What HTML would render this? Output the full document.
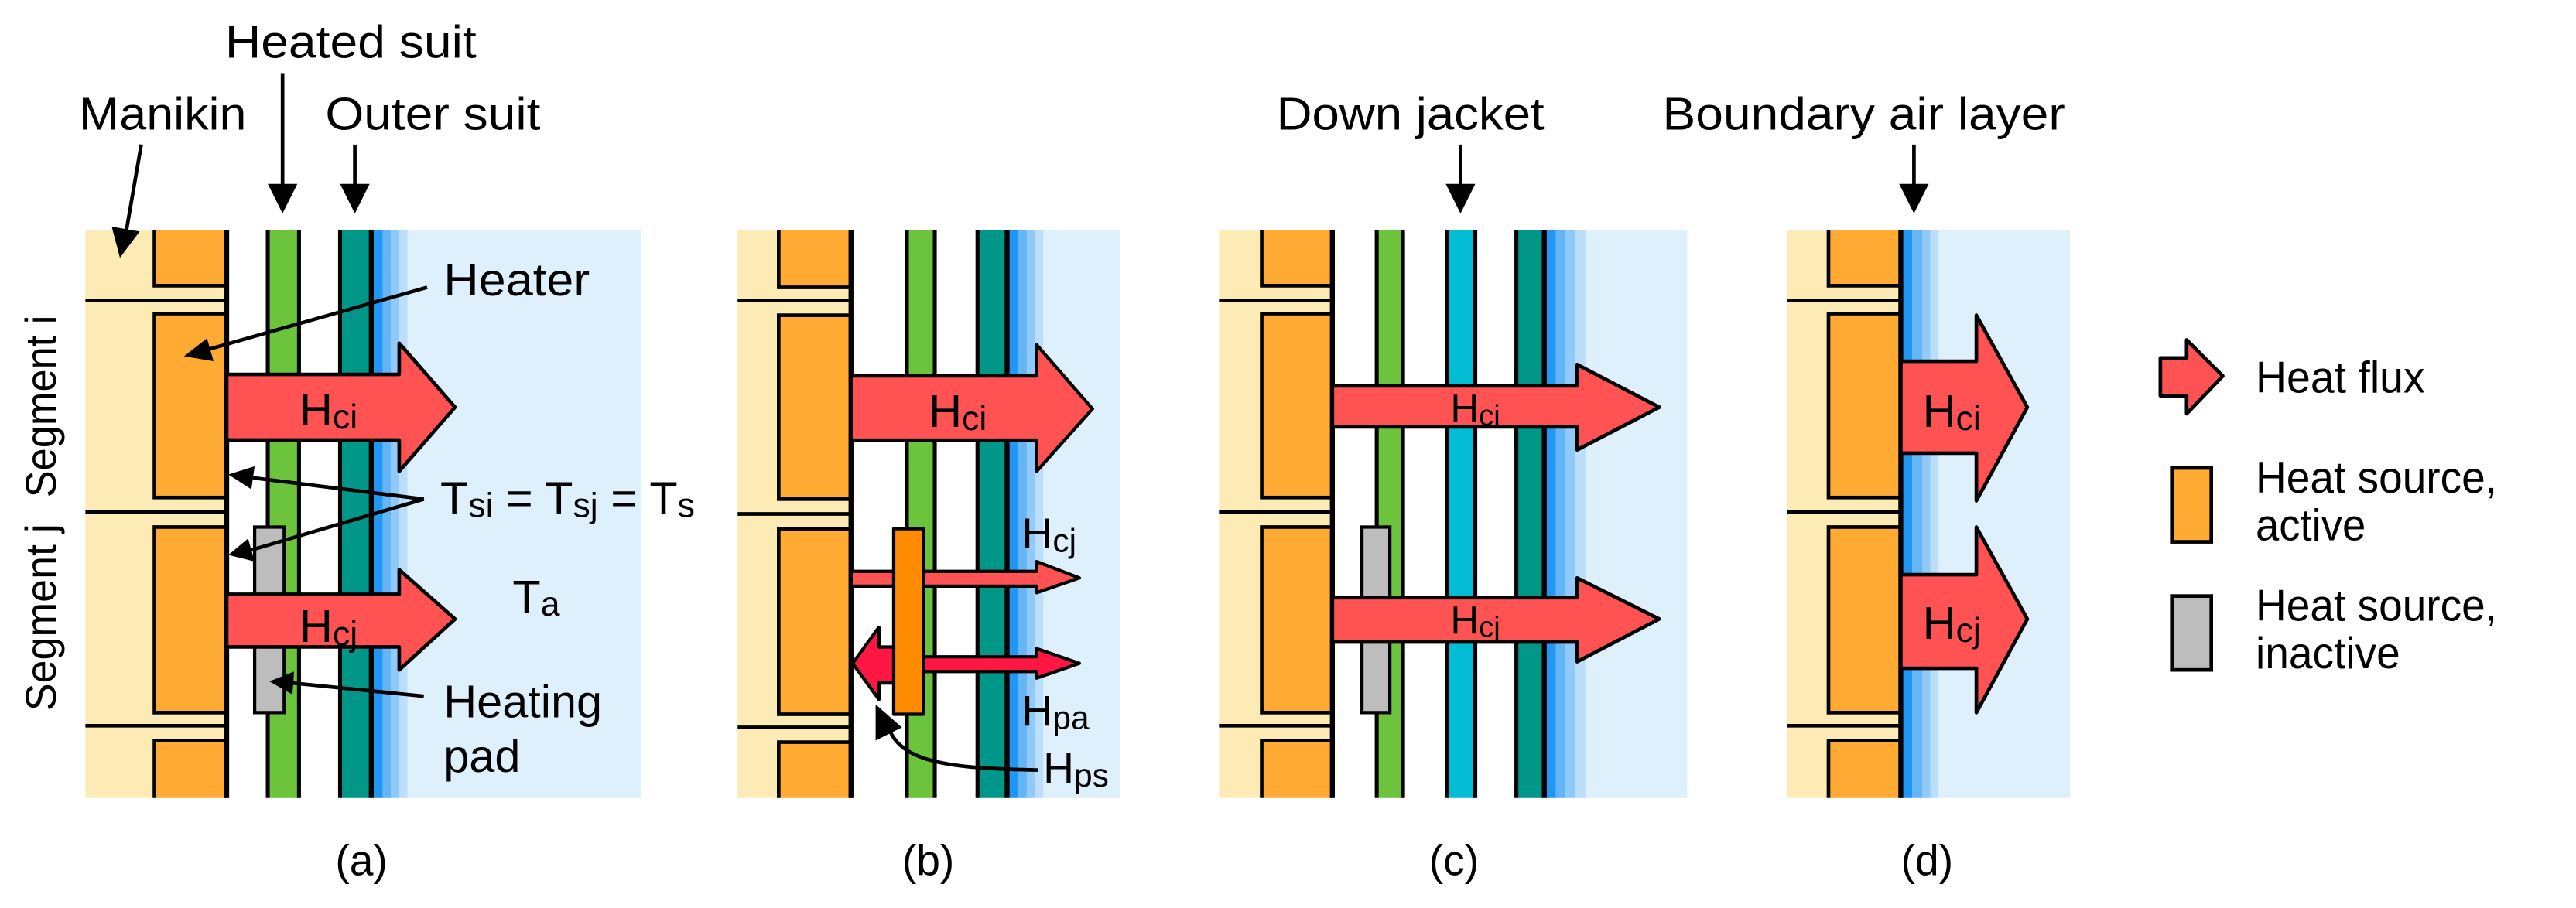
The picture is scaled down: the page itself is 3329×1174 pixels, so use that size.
<!DOCTYPE html>
<html><head><meta charset="utf-8"><style>html,body{margin:0;padding:0;background:#fff}svg{display:block}</style></head>
<body>
<svg width="3329" height="1174" viewBox="0 0 1568 553" preserveAspectRatio="none" xmlns="http://www.w3.org/2000/svg" font-family="Liberation Sans, sans-serif">
<defs>
<g id="man">
</g>
</defs>
<rect width="1568" height="553" fill="#fff"/>

<!-- ========== Panel (a) ========== -->
<rect x="52" y="140" width="86" height="346" fill="#fdebb5"/>
<rect x="226" y="140" width="164" height="346" fill="#ddf0fc"/>
<g stroke="#000" stroke-width="2.2" fill="#ffaa33">
<path d="M138 140 V174 H94 V140"/>
<rect x="94" y="191" width="44" height="112"/>
<rect x="94" y="321" width="44" height="113"/>
<path d="M138 486 V451 H94 V486"/>
</g>
<g stroke="#000" stroke-width="2.2"><line x1="52" y1="183" x2="138" y2="183"/><line x1="52" y1="312" x2="138" y2="312"/><line x1="52" y1="442" x2="138" y2="442"/></g>
<line x1="138" y1="140" x2="138" y2="486" stroke="#000" stroke-width="3"/>
<rect x="163" y="140" width="19" height="346" fill="#6cc33c"/>
<rect x="207" y="140" width="19" height="346" fill="#009688"/>
<rect x="227" y="140" width="6" height="346" fill="#2196f3"/><rect x="233" y="140" width="5" height="346" fill="#64b5f6"/><rect x="238" y="140" width="5" height="346" fill="#90caf9"/><rect x="243" y="140" width="5" height="346" fill="#bbdefb"/>
<g stroke="#000" stroke-width="2.4"><line x1="163" y1="140" x2="163" y2="486"/><line x1="182" y1="140" x2="182" y2="486"/><line x1="207" y1="140" x2="207" y2="486"/><line x1="226" y1="140" x2="226" y2="486" stroke-width="3"/></g>
<rect x="155" y="321" width="18" height="113" fill="#bdbdbd" stroke="#000" stroke-width="2"/>
<g fill="#ff5252" stroke="#000" stroke-width="2.2" stroke-linejoin="round">
<polygon points="138,228 243,228 243,209 277,248 243,287 243,268 138,268"/>
<polygon points="138,362 243,362 243,347 277,377 243,408 243,394 138,394"/>
</g>
<text x="200" y="259" font-size="28" text-anchor="middle">H<tspan font-size="21" dy="2">ci</tspan></text>
<text x="200" y="391" font-size="28" text-anchor="middle">H<tspan font-size="21" dy="2">cj</tspan></text>

<g font-size="28">
<text x="137" y="35" textLength="153" lengthAdjust="spacingAndGlyphs">Heated suit</text>
<text x="48" y="79" textLength="102" lengthAdjust="spacingAndGlyphs">Manikin</text>
<text x="198" y="79" textLength="131" lengthAdjust="spacingAndGlyphs">Outer suit</text>
<text x="270" y="180" textLength="89" lengthAdjust="spacingAndGlyphs">Heater</text>
<text x="268" y="313">T<tspan font-size="21" dy="2">si</tspan><tspan dy="-2"> = T</tspan><tspan font-size="21" dy="2">sj</tspan><tspan dy="-2"> = T</tspan><tspan font-size="21" dy="2">s</tspan></text>
<text x="312" y="373">T<tspan font-size="21" dy="2">a</tspan></text>
<text x="270" y="437">Heating</text>
<text x="270" y="470">pad</text>
</g>
<g font-size="26">
<text transform="translate(34,303) rotate(-90)" textLength="111" lengthAdjust="spacingAndGlyphs">Segment i</text>
<text transform="translate(34,433) rotate(-90)" textLength="114" lengthAdjust="spacingAndGlyphs">Segment j</text>
</g>
<!-- pointer arrows a -->
<g stroke="#000" stroke-width="2.2" fill="none">
<line x1="172" y1="45" x2="172" y2="115"/>
<line x1="86" y1="88" x2="77" y2="140"/>
<line x1="216" y1="88" x2="216" y2="115"/>
<line x1="260" y1="175" x2="126" y2="213"/>
<line x1="258" y1="304" x2="154" y2="291"/>
<line x1="258" y1="304" x2="153" y2="335"/>
<line x1="258" y1="424" x2="178" y2="416"/>
</g>
<g fill="#000">
<polygon points="163,112 181,112 172,130"/>
<polygon points="68,138 85,141 73,157"/>
<polygon points="207,112 225,112 216,130"/>
<polygon points="112,217 126,206 130,220"/>
<polygon points="139,289 155,284 153,298"/>
<polygon points="139,338 151,328 155,342"/>
<polygon points="164,415 179,409 178,423"/>
</g>
<text x="220" y="533" font-size="26" text-anchor="middle">(a)</text>

<!-- ========== Panel (b) ========== -->
<rect x="449" y="140" width="69" height="346" fill="#fdebb5"/>
<rect x="613" y="140" width="69" height="346" fill="#ddf0fc"/>
<g stroke="#000" stroke-width="2.2" fill="#ffaa33">
<path d="M518 140 V175 H474 V140"/>
<rect x="474" y="192" width="44" height="112"/>
<rect x="474" y="322" width="44" height="113"/>
<path d="M518 486 V452 H474 V486"/>
</g>
<g stroke="#000" stroke-width="2.2"><line x1="449" y1="183" x2="518" y2="183"/><line x1="449" y1="313" x2="518" y2="313"/><line x1="449" y1="443" x2="518" y2="443"/></g>
<line x1="518" y1="140" x2="518" y2="486" stroke="#000" stroke-width="3"/>
<rect x="552" y="140" width="17" height="346" fill="#6cc33c"/>
<rect x="595" y="140" width="18" height="346" fill="#009688"/>
<rect x="614" y="140" width="6" height="346" fill="#2196f3"/><rect x="620" y="140" width="5" height="346" fill="#64b5f6"/><rect x="625" y="140" width="5" height="346" fill="#90caf9"/><rect x="630" y="140" width="5" height="346" fill="#bbdefb"/>
<g stroke="#000" stroke-width="2.4"><line x1="552" y1="140" x2="552" y2="486"/><line x1="569" y1="140" x2="569" y2="486"/><line x1="595" y1="140" x2="595" y2="486"/><line x1="613" y1="140" x2="613" y2="486" stroke-width="3"/></g>
<g stroke="#000" stroke-width="2" stroke-linejoin="round">
<polygon fill="#ff5252" points="518,229 631,229 631,210 665,249 631,287 631,268 518,268"/>
<polygon fill="#ff5252" points="518,348 631,348 631,342 657,352 631,361 631,357 518,357"/>
<polygon fill="#ff1744" points="562,400 631,400 631,395 657,404 631,413 631,409 562,409"/>
<polygon fill="#ff1744" points="545,394 535,394 535,382 519,404 535,426 535,416 545,416"/>
<rect x="544" y="322" width="18" height="113" fill="#ff8c00"/>
</g>
<text x="583" y="260" font-size="28" text-anchor="middle">H<tspan font-size="21" dy="2">ci</tspan></text>
<g font-size="26">
<text x="622" y="334">H<tspan font-size="20" dy="2">cj</tspan></text>
<text x="622" y="442">H<tspan font-size="20" dy="2">pa</tspan></text>
<text x="635" y="477">H<tspan font-size="20" dy="2">ps</tspan></text>
</g>
<path d="M632 469 C585 468 548 466 541 443" stroke="#000" stroke-width="2.2" fill="none"/>
<polygon points="533,429 549,443 533,451" fill="#000"/>
<text x="565" y="533" font-size="26" text-anchor="middle">(b)</text>

<!-- ========== Panel (c) ========== -->
<rect x="742" y="140" width="69" height="346" fill="#fdebb5"/>
<rect x="940" y="140" width="87" height="346" fill="#ddf0fc"/>
<g stroke="#000" stroke-width="2.2" fill="#ffaa33">
<path d="M811 140 V174 H768 V140"/>
<rect x="768" y="191" width="43" height="112"/>
<rect x="768" y="321" width="43" height="113"/>
<path d="M811 486 V451 H768 V486"/>
</g>
<g stroke="#000" stroke-width="2.2"><line x1="742" y1="183" x2="811" y2="183"/><line x1="742" y1="312" x2="811" y2="312"/><line x1="742" y1="442" x2="811" y2="442"/></g>
<line x1="811" y1="140" x2="811" y2="486" stroke="#000" stroke-width="3"/>
<rect x="838" y="140" width="16" height="346" fill="#6cc33c"/>
<rect x="881" y="140" width="17" height="346" fill="#00bcd4"/>
<rect x="923" y="140" width="17" height="346" fill="#009688"/>
<rect x="941" y="140" width="6" height="346" fill="#2196f3"/><rect x="947" y="140" width="6" height="346" fill="#64b5f6"/><rect x="953" y="140" width="6" height="346" fill="#90caf9"/><rect x="959" y="140" width="6" height="346" fill="#bbdefb"/>
<g stroke="#000" stroke-width="2.4"><line x1="838" y1="140" x2="838" y2="486"/><line x1="854" y1="140" x2="854" y2="486"/><line x1="881" y1="140" x2="881" y2="486"/><line x1="898" y1="140" x2="898" y2="486"/><line x1="923" y1="140" x2="923" y2="486"/><line x1="940" y1="140" x2="940" y2="486" stroke-width="3"/></g>
<rect x="829" y="321" width="17" height="113" fill="#bdbdbd" stroke="#000" stroke-width="2"/>
<g fill="#ff5252" stroke="#000" stroke-width="2.2" stroke-linejoin="round">
<polygon points="811,235 960,235 960,222 1010,248 960,274 960,260 811,260"/>
<polygon points="811,364 960,364 960,352 1010,377 960,403 960,391 811,391"/>
</g>
<text x="898" y="257" font-size="24" text-anchor="middle">H<tspan font-size="18" dy="2">ci</tspan></text>
<text x="898" y="386" font-size="24" text-anchor="middle">H<tspan font-size="18" dy="2">cj</tspan></text>
<text x="777" y="79" font-size="28" textLength="163" lengthAdjust="spacingAndGlyphs">Down jacket</text>
<line x1="889" y1="88" x2="889" y2="115" stroke="#000" stroke-width="2.2"/>
<polygon points="880,112 898,112 889,130" fill="#000"/>
<text x="885" y="533" font-size="26" text-anchor="middle">(c)</text>

<!-- ========== Panel (d) ========== -->
<rect x="1088" y="140" width="69" height="346" fill="#fdebb5"/>
<rect x="1157" y="140" width="103" height="346" fill="#ddf0fc"/>
<g stroke="#000" stroke-width="2.2" fill="#ffaa33">
<path d="M1157 140 V174 H1113 V140"/>
<rect x="1113" y="191" width="44" height="112"/>
<rect x="1113" y="321" width="44" height="113"/>
<path d="M1157 486 V451 H1113 V486"/>
</g>
<g stroke="#000" stroke-width="2.2"><line x1="1088" y1="183" x2="1157" y2="183"/><line x1="1088" y1="312" x2="1157" y2="312"/><line x1="1088" y1="442" x2="1157" y2="442"/></g>
<rect x="1158" y="140" width="6" height="346" fill="#2196f3"/><rect x="1164" y="140" width="6" height="346" fill="#64b5f6"/><rect x="1170" y="140" width="5" height="346" fill="#90caf9"/><rect x="1175" y="140" width="5" height="346" fill="#bbdefb"/>
<line x1="1157" y1="140" x2="1157" y2="486" stroke="#000" stroke-width="3"/>
<g fill="#ff5252" stroke="#000" stroke-width="2.2" stroke-linejoin="round">
<polygon points="1157,220 1203,220 1203,192 1234,248 1203,305 1203,276 1157,276"/>
<polygon points="1157,350 1203,350 1203,321 1234,377 1203,434 1203,407 1157,407"/>
</g>
<text x="1188" y="260" font-size="28" text-anchor="middle">H<tspan font-size="21" dy="2">ci</tspan></text>
<text x="1188" y="389" font-size="28" text-anchor="middle">H<tspan font-size="21" dy="2">cj</tspan></text>
<text x="1012" y="79" font-size="28" textLength="245" lengthAdjust="spacingAndGlyphs">Boundary air layer</text>
<line x1="1165" y1="88" x2="1165" y2="115" stroke="#000" stroke-width="2.2"/>
<polygon points="1156,112 1174,112 1165,130" fill="#000"/>
<text x="1173" y="533" font-size="26" text-anchor="middle">(d)</text>

<!-- ========== Legend ========== -->
<polygon points="1315,218 1331,218 1331,207 1353,229 1331,252 1331,241 1315,241" fill="#ff5252" stroke="#000" stroke-width="2.2" stroke-linejoin="round"/>
<rect x="1322" y="285" width="24" height="45" fill="#ffaa33" stroke="#000" stroke-width="2.2"/>
<rect x="1322" y="363" width="24" height="45" fill="#bdbdbd" stroke="#000" stroke-width="2.2"/>
<g font-size="27">
<text x="1373" y="239" textLength="103" lengthAdjust="spacingAndGlyphs">Heat flux</text>
<text x="1373" y="300" textLength="147" lengthAdjust="spacingAndGlyphs">Heat source,</text>
<text x="1373" y="329" textLength="67" lengthAdjust="spacingAndGlyphs">active</text>
<text x="1373" y="378" textLength="147" lengthAdjust="spacingAndGlyphs">Heat source,</text>
<text x="1373" y="407" textLength="88" lengthAdjust="spacingAndGlyphs">inactive</text>
</g>
</svg>
</body></html>
